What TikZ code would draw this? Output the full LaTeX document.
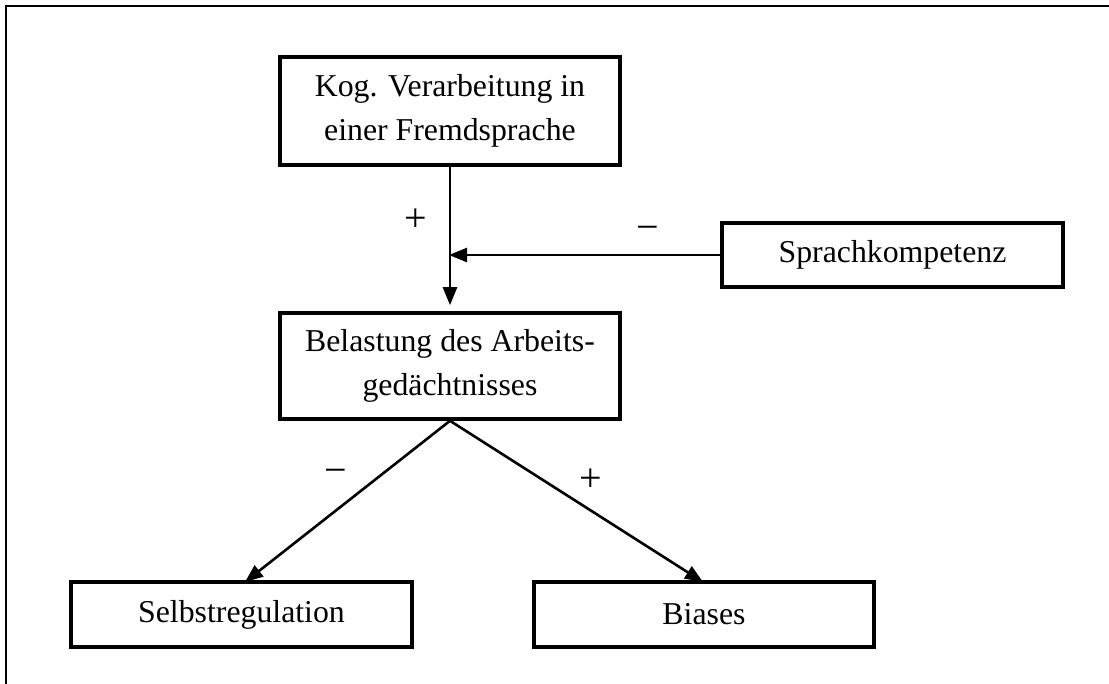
\documentclass[tikz,border=0pt]{standalone}
\usepackage{fontspec}
\setmainfont{Liberation Serif}
\usetikzlibrary{arrows.meta}
\begin{document}
\begin{tikzpicture}[x=1pt,y=-1pt,
  every node/.style={font=\fontsize{31.8}{44}\selectfont},
  conceptbox/.style={draw,line width=3.6pt,inner sep=0pt,align=center},
  link/.style={line width=2.6pt},
  tip/.style={-{Triangle[length=18pt,width=14pt]}},
  sign/.style={inner sep=0pt,font=\fontsize{40}{44}\selectfont}]
\useasboundingbox (0,0) rectangle (1109,684);
\fill[white] (0,0) rectangle (1109,684);
% open frame: left and top edges
\draw[line width=2.4pt] (6,684) -- (6,6) -- (1109,6);

% concepts
\node[conceptbox,minimum width=340pt,minimum height=108pt] (kog) at (450,111)
  {Kog. Verarbeitung in\\einer Fremdsprache};
\node[conceptbox,minimum width=340pt,minimum height=106pt] (last) at (450,366)
  {Belastung des Arbeits-\\gedächtnisses};
\node[conceptbox,minimum width=341pt,minimum height=64pt] (sprach) at (892.5,255)
  {Sprachkompetenz};
\node[conceptbox,minimum width=341pt,minimum height=65pt] (selbst) at (241.5,614.5)
  {Selbstregulation};
\node[conceptbox,minimum width=340pt,minimum height=65pt] (bias) at (704,614.5)
  {Biases};

% junction points on the vertical link
\coordinate (j1) at (kog.south |- 0,185);
\coordinate (j2) at (kog.south |- 0,247);
\coordinate (jm) at (kog.south |- sprach.west);

% vertical link with the moderating arrow from Sprachkompetenz
\draw[link] (kog.south) -- (j1);
\draw[line width=1.2pt] (j1) -- (j2);
\draw[link,tip,shorten >=6pt] (j2) -- (last.north);
\draw[link,tip,shorten >=-1pt] (sprach.west) -- (jm);

% links to the outcomes
\coordinate (s1) at (245,582);
\coordinate (s2) at (703,582);
\draw[link,tip] (last.south) -- (s1);
\draw[link,tip] (last.south) -- (s2);

% signs
\node[sign] (p1) at (416,220) {+};
\node[sign] (m1) at (648,233) {−};
\node[sign] (m2) at (336,476) {−};
\node[sign] (p2) at (591,480) {+};
\end{tikzpicture}
\end{document}
